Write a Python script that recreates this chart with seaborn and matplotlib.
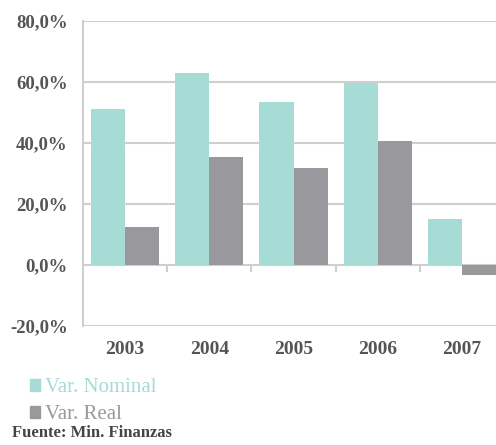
import matplotlib
matplotlib.use("Agg")
import numpy as np
import pandas as pd
import matplotlib.pyplot as plt
import seaborn as sns
from matplotlib.patches import Patch
from matplotlib.ticker import FuncFormatter

# Data
YEARS = ['2003', '2004', '2005', '2006', '2007']
VAR_NOMINAL = [51.0, 63.0, 53.5, 59.7, 15.1]
VAR_REAL = [12.6, 35.5, 31.8, 40.7, -3.3]
SERIES = ['Var. Nominal', 'Var. Real']
COLORS = ['#a6dbd6', '#99999d']
SOURCE = 'Fuente: Min. Finanzas'

df = pd.DataFrame({
    'year': YEARS * 2,
    'value': VAR_NOMINAL + VAR_REAL,
    'serie': [SERIES[0]] * len(YEARS) + [SERIES[1]] * len(YEARS),
})

sns.set_theme(style="white")
plt.rcParams['font.family'] = ['Liberation Serif', 'DejaVu Serif']

fig = plt.figure(figsize=(4.96, 4.45), dpi=100)
ax = fig.add_axes([83 / 496, 119 / 445, 421 / 496, 305 / 445])

sns.barplot(data=df, x='year', y='value', hue='serie', palette=COLORS,
            width=0.81, gap=0, saturation=1, linewidth=0, ax=ax, legend=False)

grid_c = '#cfcfcf'
ax.set_ylim(-20, 80)
ax.set_yticks(np.arange(-20, 81, 20))
ax.yaxis.set_major_formatter(FuncFormatter(lambda v, p: f"{v:.1f}%".replace('.', ',')))
ax.set_xlim(-0.5, len(YEARS) - 0.5)
ax.yaxis.grid(True, color=grid_c, linewidth=1.5, zorder=0)
ax.set_axisbelow(True)
for s in ['top', 'right', 'bottom']:
    ax.spines[s].set_visible(False)
ax.spines['left'].set_color(grid_c)
ax.spines['left'].set_linewidth(1.5)

# category separators on the zero line
for i in range(len(YEARS) - 1):
    ax.vlines(i + 0.5, -2.3, 0, color=grid_c, linewidth=1.5, zorder=0)

ax.tick_params(axis='y', length=5, width=1.5, color=grid_c, pad=6,
               labelsize=13.5, labelcolor='#555555')
ax.tick_params(axis='x', length=0, pad=11, labelsize=14, labelcolor='#555555')
for lbl in ax.get_xticklabels() + ax.get_yticklabels():
    lbl.set_fontweight('bold')
ax.set_xlabel('')
ax.set_ylabel('')

handles = [Patch(color=c, label=s) for c, s in zip(COLORS, SERIES)]
fig.legend(handles=handles, loc='upper left', bbox_to_anchor=(30 / 496, 0.150),
           frameon=False, fontsize=15, labelcolor=COLORS,
           handlelength=0.5, handleheight=0.5, handletextpad=0.2,
           labelspacing=0.38, borderpad=0, borderaxespad=0)

fig.text(12 / 496, 0.026, SOURCE, fontsize=12, color='#444444',
         fontweight='bold', va='center', ha='left')

fig.savefig('out.png', dpi=100)
